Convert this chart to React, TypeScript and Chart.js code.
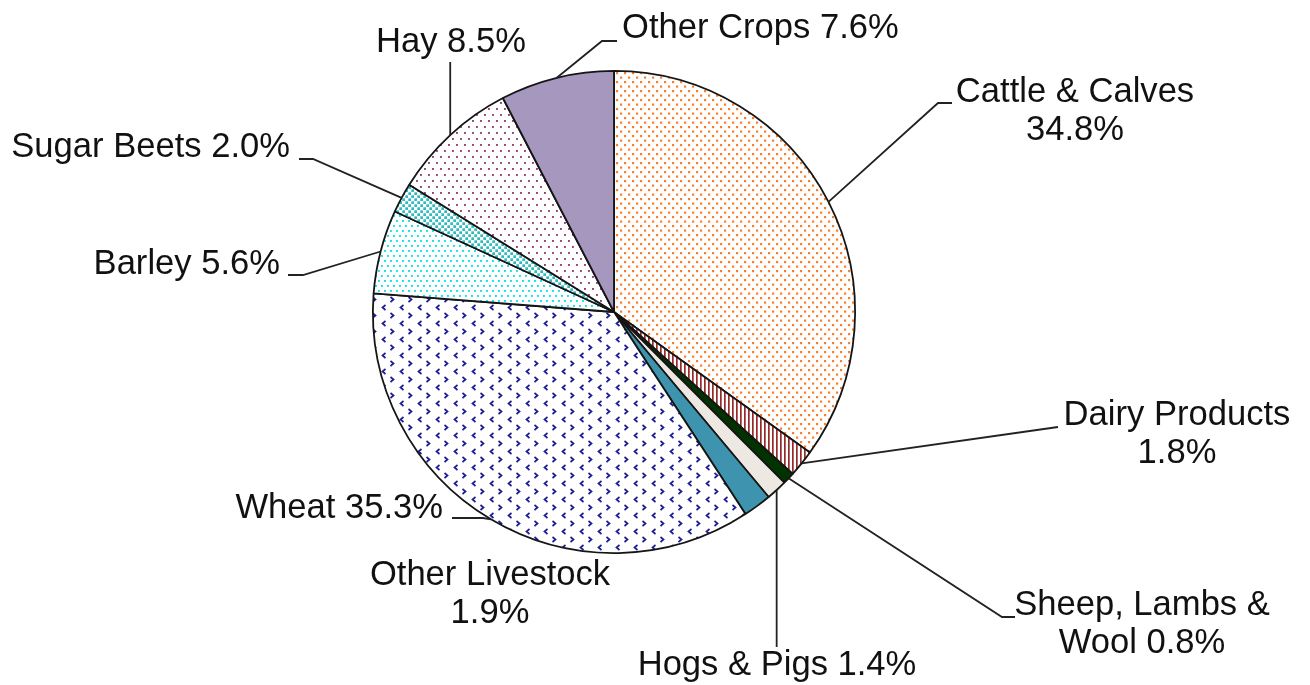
import React, { useEffect, useRef } from "react";
import { Chart, registerables } from "chart.js";

Chart.register(...registerables);

// ---------- data ----------
const categories: string[] = [
  "Cattle & Calves",
  "Dairy Products",
  "Sheep, Lambs & Wool",
  "Hogs & Pigs",
  "Other Livestock",
  "Wheat",
  "Barley",
  "Sugar Beets",
  "Hay",
  "Other Crops",
];
const shares: number[] = [34.8, 1.8, 0.8, 1.4, 1.9, 35.3, 5.6, 2.0, 8.5, 7.6];

// ---------- label layout (page pixels) ----------
type Layout = {
  align: CanvasTextAlign;
  x: number;
  y: number;
  mode: "stack" | "inline" | "wrap";
  wrap?: number;
  leader: "none" | "vertical" | number[][];
  leaderEnd?: number;
};
const labelLayout: Layout[] = [
  { align: "center", x: 1075, y: 102, mode: "stack", leader: [[938, 103], [952, 103]] },
  { align: "center", x: 1177, y: 425, mode: "stack", leader: [[1058, 427]] },
  { align: "center", x: 1142, y: 615, mode: "wrap", wrap: 3, leader: [[1002, 617], [1015, 617]] },
  { align: "center", x: 777, y: 675, mode: "inline", leader: "vertical", leaderEnd: 647 },
  { align: "center", x: 490, y: 585, mode: "stack", leader: "none" },
  { align: "right", x: 443, y: 518, mode: "inline", leader: [[483, 518], [452, 518]] },
  { align: "right", x: 280, y: 274, mode: "inline", leader: [[303, 275], [288, 275]] },
  { align: "right", x: 290, y: 157, mode: "inline", leader: [[313, 159], [299, 159]] },
  { align: "left", x: 376, y: 52, mode: "inline", leader: "vertical", leaderEnd: 62 },
  { align: "left", x: 622, y: 38, mode: "inline", leader: [[602, 41], [617, 41]] },
];

const FONT = "34.6px 'Liberation Sans', Arial, sans-serif";
const LINE_H = 38;

function labelText(i: number): string[] {
  const name = categories[i];
  const val = shares[i].toFixed(1) + "%";
  const L = labelLayout[i];
  if (L.mode === "stack") return [name, val];
  if (L.mode === "wrap") {
    const w = name.split(" ");
    const n = L.wrap || 1;
    return [w.slice(0, n).join(" "), w.slice(n).join(" ") + " " + val];
  }
  return [name + " " + val];
}

// ---------- fill patterns ----------
function tile(w: number, h: number, draw: (g: CanvasRenderingContext2D) => void, bg = "#ffffff") {
  const c = document.createElement("canvas");
  c.width = w;
  c.height = h;
  const g = c.getContext("2d") as CanvasRenderingContext2D;
  g.fillStyle = bg;
  g.fillRect(0, 0, w, h);
  draw(g);
  return g.createPattern(c, "repeat") as CanvasPattern;
}

function makeFills(): (string | CanvasPattern)[] {
  const cattle = tile(8, 9, (g) => {
    g.fillStyle = "#FA7F2A";
    g.fillRect(0, 0, 2.2, 2.2);
    g.fillRect(4, 4.5, 2.2, 2.2);
  });
  const dairy = tile(4, 4, (g) => {
    g.fillStyle = "#962A2A";
    g.fillRect(0, 0, 1.7, 4);
  });
  const wheat = tile(18, 16, (g) => {
    g.strokeStyle = "#1C1C94";
    g.lineWidth = 1.7;
    g.beginPath();
    g.moveTo(7.5, 1);
    g.lineTo(4.5, 3.5);
    g.lineTo(7.5, 6);
    g.stroke();
    g.beginPath();
    g.moveTo(12.5, 9);
    g.lineTo(15.5, 11.5);
    g.lineTo(12.5, 14);
    g.stroke();
  });
  const barley = tile(6, 10, (g) => {
    g.fillStyle = "#0BE2EC";
    g.fillRect(0, 0, 1.9, 1.9);
    g.fillRect(3, 5, 1.9, 1.9);
  });
  const sugar = tile(6, 6, (g) => {
    g.fillStyle = "#2DBBBB";
    g.fillRect(0.3, 0.3, 2.7, 2.7);
    g.fillRect(3.3, 3.3, 2.7, 2.7);
  });
  const hay = tile(8, 12, (g) => {
    g.fillStyle = "#93406F";
    g.fillRect(0, 0, 1.9, 1.9);
    g.fillRect(4, 6, 1.9, 1.9);
  });
  return [
    cattle,
    dairy,
    "#003300",
    "#EDE9E2",
    "#3E94AE",
    wheat,
    barley,
    sugar,
    hay,
    "#A697BE",
  ];
}

// ---------- label plugin ----------
const labelPlugin = {
  id: "pieLabels",
  afterDatasetsDraw(chart: any) {
    const ctx: CanvasRenderingContext2D = chart.ctx;
    const meta = chart.getDatasetMeta(0);
    ctx.save();
    meta.data.forEach((arc: any, i: number) => {
      const L = labelLayout[i];
      const p = arc.getProps(["x", "y", "startAngle", "endAngle", "outerRadius"], true);
      const mid = (p.startAngle + p.endAngle) / 2;
      const ex = p.x + Math.cos(mid) * p.outerRadius;
      const ey = p.y + Math.sin(mid) * p.outerRadius;
      ctx.strokeStyle = "#222222";
      ctx.lineWidth = 1.8;
      if (L.leader === "vertical") {
        ctx.beginPath();
        ctx.moveTo(ex, ey);
        ctx.lineTo(ex, L.leaderEnd as number);
        ctx.stroke();
      } else if (L.leader !== "none") {
        ctx.beginPath();
        ctx.moveTo(ex, ey);
        (L.leader as number[][]).forEach((pt) => ctx.lineTo(pt[0], pt[1]));
        ctx.stroke();
      }
      ctx.font = FONT;
      ctx.fillStyle = "#111111";
      ctx.textAlign = L.align;
      ctx.textBaseline = "alphabetic";
      labelText(i).forEach((line, k) => {
        ctx.fillText(line, L.x, L.y + k * LINE_H);
      });
    });
    ctx.restore();
  },
};

export default function App() {
  const ref = useRef<HTMLCanvasElement | null>(null);
  useEffect(() => {
    if (!ref.current) return;
    const W = 1310;
    const H = 685;
    const cx = 614;
    const cy = 312;
    const half = 242;
    const chart = new Chart(ref.current, {
      type: "pie",
      data: {
        labels: categories,
        datasets: [
          {
            data: shares,
            backgroundColor: makeFills() as any,
            borderColor: "#151515",
            borderWidth: 1.8,
          },
        ],
      },
      options: {
        responsive: false,
        animation: false,
        devicePixelRatio: 1,
        layout: {
          padding: {
            left: cx - half,
            right: W - (cx + half),
            top: cy - half,
            bottom: H - (cy + half),
          },
        },
        plugins: {
          legend: { display: false },
          tooltip: { enabled: false },
        },
      },
      plugins: [labelPlugin],
    });
    return () => chart.destroy();
  }, []);
  return (
    <div style={{ position: "absolute", left: 0, top: 0, width: 1310, height: 685, background: "#fff" }}>
      <canvas ref={ref} width={1310} height={685} style={{ display: "block" }} />
    </div>
  );
}
